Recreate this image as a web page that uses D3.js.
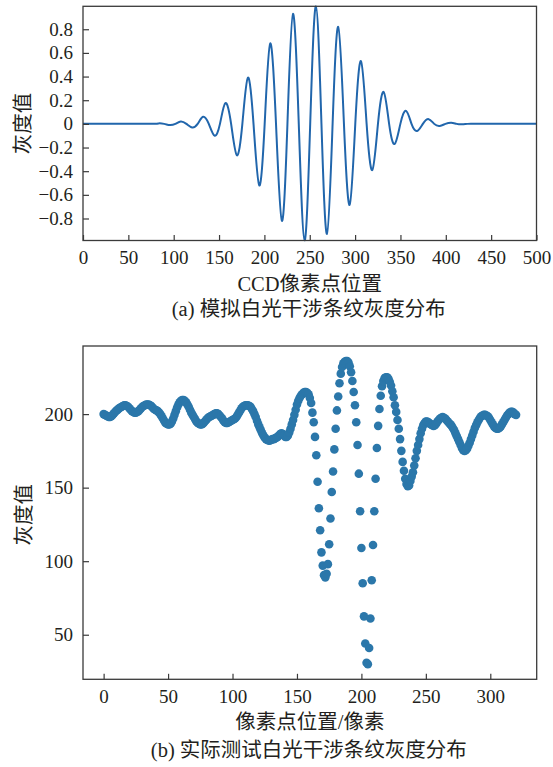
<!DOCTYPE html>
<html><head><meta charset="utf-8">
<script src="https://cdn.jsdelivr.net/npm/d3@7"></script>
<style>
html,body{margin:0;padding:0;background:#fff;}
svg text{font-family:"Liberation Serif","Times New Roman","Noto Sans CJK SC",serif;fill:#231f20;}
</style></head>
<body><svg id="c" width="553" height="767"></svg>
<script>
// ---------- (a) simulated white-light interference (key points) ----------
const simX = [0, 70, 83.4, 89.5, 95.7, 101.8, 107.8, 114, 120.3, 126.4, 132.4, 138.7, 145, 151, 157, 163.3,
  169.6, 175.7, 181.8, 188, 194.3, 200.3, 206.4, 212.8, 219.3, 225.4, 231.5, 237.9, 244.3, 250.5, 256.8,
  262.9, 269, 275.2, 281.4, 287.7, 294, 300.2, 306.5, 312.7, 319, 325.2, 331.5, 337.5, 343.6, 349.9, 356.2,
  362.2, 368.3, 374.7, 381.1, 387.2, 393.3, 399.6, 406, 412, 418, 424, 440, 500];
const simY = [0, 0, 0.004, 0, -0.01, 0, 0.02, 0, -0.03, 0, 0.06, 0, -0.10, 0, 0.175, 0,
  -0.265, 0, 0.39, 0, -0.52, 0, 0.68, 0, -0.82, 0, 0.93, 0, -0.986, 0, 0.994,
  0, -0.93, 0, 0.82, 0, -0.685, 0, 0.53, 0, -0.39, 0, 0.27, 0, -0.17, 0, 0.11,
  0, -0.06, 0, 0.04, 0, -0.017, 0, 0.01, 0, -0.004, 0, 0, 0];
const aXTicks = [0, 50, 100, 150, 200, 250, 300, 350, 400, 450, 500];
const aYTicks = [-0.8, -0.6, -0.4, -0.2, 0, 0.2, 0.4, 0.6, 0.8];

// ---------- (b) measured gray values, pixel 0..320 ----------
const measGray = [
 200,199.5,199,198.5,198,198,198.5,199.5,200.5,201.5,202.5,203,204,204.5,205,205.5,206,206,205.5,205,
 204,203,202,201.5,201,201,201.5,202,203,204,205,205.5,206,206.5,206.5,206.5,206,205.5,204.5,203.5,
 203,202.5,202,201,200,198.5,197,195.5,194,193.5,193,193,193.5,195,197,199.5,202,204.5,206.5,208,
 209,209.5,209.5,209,208,206.5,205,203,201,199.5,198,196.5,195,194,193.5,193,193,193.5,194.5,195.5,
 196.5,197.5,198,198.5,199,199.5,200,200.5,200.5,200,199,198,197,195.5,194.5,194,194,194.5,195,195.5,
 196,196.5,197,198,199.5,201,202.5,204,205,205.5,206,206,206,205.5,205,203.5,202,200,198,195.5,
 193,191,189,187,185.5,184,183,182.5,182,182,182.5,183,183,183.5,184,184.5,185.5,186.5,187,186.5,
 185.5,184.5,184.5,185.5,187.5,190,193,196,199.5,203,206.5,209,211,212.5,213.5,214.5,215,215,214.5,213.5,
 211,207.5,201,194.5,184.5,172,154,136,121,106,97,90.5,89,91.5,98,111.5,129,147,161,176,
 190,202.5,212,221,227.5,232,234.5,235.5,236,236,235,232.5,228.5,222.5,215,206,194.5,179,159.5,134,
 109,85,62.5,44,31,30,41,61,87,111,134,156,177,192,203.5,212.5,219,222.5,224.5,225,
 225,224,222,219.5,215.5,211.5,206,201.5,196,190,183,175,167.5,161.5,156,152.5,151,151.5,154.5,157.5,
 160.5,165,170,175,179,183,187,190,192.5,194,195,195,194.5,193.5,193,192.5,192,192.5,193.5,195,
 196,197,197.5,198,197.5,197,196,195,194,193,192,190.5,189,187,185,183,181,179,177,175.5,
 175,175.5,176.5,178.5,180.5,183,185.5,188,190.5,192.5,194.5,196,197.5,198.5,199,199.5,199.5,199,198.5,197.5,
 196,194.5,193,191.5,190.5,190,190,190.5,191.5,193,194.5,196,197.5,199,200,201,201.5,201.5,201,200,
 199.5];
const measPixel = measGray.map((d, i) => i);
const bXTicks = [0, 50, 100, 150, 200, 250, 300];
const bYTicks = [50, 100, 150, 200];

const texts = {
  aYLabel: "灰度值", aXLabel: "CCD像素点位置", aCaption: "(a) 模拟白光干涉条纹灰度分布",
  bYLabel: "灰度值", bXLabel: "像素点位置/像素", bCaption: "(b) 实际测试白光干涉条纹灰度分布"
};

const svg = d3.select("#c");
const frameColor = "#3a3a3a";

function drawAxes(g, x, y, xTicks, yTicks, yFmt, xPad) {
  const [x0, x1] = x.range(), [y1, y0] = y.range();
  const ax = g.append("g").attr("transform", `translate(0,${y1})`)
    .call(d3.axisBottom(x).tickValues(xTicks).tickSize(-5.5).tickPadding(xPad).tickFormat(d3.format("d")));
  const ay = g.append("g").attr("transform", `translate(${x0},0)`)
    .call(d3.axisLeft(y).tickValues(yTicks).tickSize(-6).tickPadding(10).tickFormat(yFmt));
  [ax, ay].forEach(a => {
    a.select(".domain").remove();
    a.selectAll(".tick line").attr("stroke", frameColor).attr("stroke-width", 1.2);
    a.selectAll(".tick text").attr("font-size", 19).attr("fill", "#231f20")
      .style("font-family", '"Liberation Serif","Times New Roman",serif');
  });
  g.append("rect").attr("x", x0).attr("y", y0).attr("width", x1 - x0).attr("height", y1 - y0)
    .attr("fill", "none").attr("stroke", frameColor).attr("stroke-width", 1.3);
}

// ---------- chart (a) ----------
{
  const L = 83, R = 536.5, T = 6.3, B = 240.5;
  const x = d3.scaleLinear().domain([0, 500]).range([L, R]);
  const y = d3.scaleLinear().domain(d3.extent(simY)).range([B, T]);
  const g = svg.append("g");
  g.append("clipPath").attr("id", "clipA").append("rect")
    .attr("x", L).attr("y", T - 1).attr("width", R - L).attr("height", B - T + 2);
  const pts = simX.map((d, i) => [d, simY[i]]);
  g.append("path").datum(pts).attr("clip-path", "url(#clipA)")
    .attr("d", d3.line().x(d => x(d[0])).y(d => y(d[1])).curve(d3.curveNatural))
    .attr("fill", "none").attr("stroke", "#2166ac").attr("stroke-width", 2);
  drawAxes(g, x, y, aXTicks, aYTicks, d => d === 0 ? "0" : d3.format(".1f")(d), 10.5);
  g.append("text").attr("transform", `translate(29.5,${(T + B) / 2}) rotate(-90)`)
    .attr("text-anchor", "middle").attr("font-size", 20.5).text(texts.aYLabel);
  g.append("text").attr("x", (L + R) / 2).attr("y", 291).attr("text-anchor", "middle")
    .attr("font-size", 20.5).text(texts.aXLabel);
  g.append("text").attr("x", (L + R) / 2 - 1).attr("y", 316).attr("text-anchor", "middle")
    .attr("font-size", 20.5).text(texts.aCaption);
}

// ---------- chart (b) ----------
{
  const L = 83, R = 536.7, T = 346, B = 679.3;
  const xe = d3.extent(measPixel), ye = d3.extent(measGray);
  const xp = (xe[1] - xe[0]) * 0.05, yp = (ye[1] - ye[0]) * 0.05;
  const x = d3.scaleLinear().domain([xe[0] - xp, xe[1] + xp]).range([L, R]);
  const y = d3.scaleLinear().domain([ye[0] - yp, ye[1] + yp]).range([B, T]);
  const g = svg.append("g");
  g.append("g").selectAll("circle").data(measGray).join("circle")
    .attr("cx", (d, i) => x(measPixel[i])).attr("cy", d => y(d)).attr("r", 4.3)
    .attr("fill", "#2b77aa");
  drawAxes(g, x, y, bXTicks, bYTicks, d3.format("d"), 10.5);
  g.append("text").attr("transform", `translate(31,${(T + B) / 2 + 2}) rotate(-90)`)
    .attr("text-anchor", "middle").attr("font-size", 20.5).text(texts.bYLabel);
  g.append("text").attr("x", (L + R) / 2).attr("y", 729).attr("text-anchor", "middle")
    .attr("font-size", 20.5).text(texts.bXLabel);
  g.append("text").attr("x", (L + R) / 2 - 1).attr("y", 757).attr("text-anchor", "middle")
    .attr("font-size", 20.5).text(texts.bCaption);
}
</script></body></html>
